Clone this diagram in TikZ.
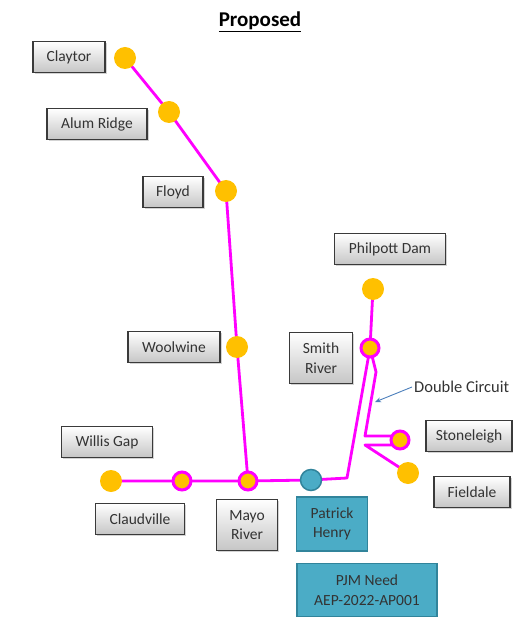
\documentclass[tikz,border=0pt]{standalone}
\usepackage{fontspec}
\setmainfont{Carlito}
\usepackage{xcolor}
\usepackage{tikz}
\usetikzlibrary{shadows,backgrounds,arrows.meta}

\definecolor{dotorange}{HTML}{FFC000}
\definecolor{linemag}{HTML}{FF00FF}
\definecolor{tealfill}{HTML}{4BACC6}
\definecolor{tealedge}{HTML}{31849B}
\definecolor{boxedge}{HTML}{3A3A3A}
\definecolor{boxtext}{HTML}{333333}
\definecolor{arrowblue}{HTML}{4A7EBB}

\begin{document}
\begin{tikzpicture}[x=1pt, y=-1pt,
    station/.style={rectangle, draw=boxedge, line width=1.5pt, top color=white, bottom color=gray!45,
        drop shadow={shadow xshift=1.5pt, shadow yshift=-1.5pt, opacity=0.35},
        minimum height=31pt, inner xsep=3pt, align=center, text=boxtext, font=\fontsize{15.5}{19.5}\selectfont},
    tealbox/.style={rectangle, draw=tealedge, line width=1.5pt, fill=tealfill,
        inner xsep=3pt, align=center, text=boxtext, font=\fontsize{15.5}{19.5}\selectfont},
    dot/.style={circle, fill=dotorange, minimum size=22pt, inner sep=0pt},
    ringdot/.style={circle, fill=dotorange, draw=linemag, line width=3pt, minimum size=18pt, inner sep=0pt},
    tealdot/.style={circle, fill=tealfill, draw=tealedge, line width=1.5pt, minimum size=21pt, inner sep=0pt},
    feeder/.style={draw=linemag, line width=2.8pt, line join=round},
]

\useasboundingbox (0,0) rectangle (513,620);

% Title
\node[font=\fontsize{21}{24}\selectfont\bfseries] (title) at (260,22) {\underline{Proposed}};

% Substations (dots)
\node[dot] (claytor) at (125,58) {};
\node[dot] (alum) at (169,112) {};
\node[dot] (floyd) at (226,191) {};
\node[dot] (woolwine) at (237,347) {};
\node[dot] (willis) at (111,481) {};
\node[ringdot] (claud) at (182,481) {};
\node[ringdot] (mayo) at (248,481) {};
\node[tealdot] (patrick) at (311,480) {};
\node[dot] (philpott) at (373,289) {};
\node[ringdot] (smith) at (370,348) {};
\node[ringdot] (stone) at (400,440) {};
\node[dot] (fieldale) at (408,473) {};

% Bends of the lines
\coordinate (bend) at (347,478);
\coordinate (dc1) at (376,372);
\coordinate (dc2) at (365,436);
\coordinate (dc3) at (365,445);
\coordinate (dctip) at (375,402);

% Labels
\node[station, minimum width=72pt] (lclaytor) at (69,57) {Claytor};
\node[station, minimum width=100pt] (lalum) at (97,124) {Alum Ridge};
\node[station, minimum width=60pt] (lfloyd) at (173,192) {Floyd};
\node[station, minimum width=92pt] (lwoolwine) at (174,347) {Woolwine};
\node[station, minimum width=91pt] (lwillis) at (107,442) {Willis Gap};
\node[station, minimum width=89pt] (lclaud) at (140,519) {Claudville};
\node[station, minimum width=61pt, minimum height=51pt] (lmayo) at (247,525) {Mayo\\River};
\node[station, minimum width=111pt] (lphilpott) at (390,249) {Philpott Dam};
\node[station, minimum width=63pt, minimum height=51pt] (lsmith) at (321,358) {Smith\\River};
\node[station, minimum width=86pt] (lstone) at (469,436) {Stoneleigh};
\node[station, minimum width=76pt] (lfieldale) at (472,492) {Fieldale};
\node[tealbox, minimum width=71pt, minimum height=54pt] (lpatrick) at (332,524) {Patrick\\Henry};
\node[tealbox, minimum width=140pt, minimum height=53pt] (lpjm) at (367,590) {PJM Need\\AEP-2022-AP001};

% Double circuit note
\node[anchor=west, inner sep=2pt, font=\fontsize{16.5}{19}\selectfont, text=black!80] (dctext) at (412,387) {Double Circuit};
\draw[arrowblue, line width=0.9pt, -{Stealth[length=6pt,width=5pt]}] (dctext.west) -- (dctip);

% Lines
\begin{scope}[on background layer]
\draw[feeder] (claytor.center) -- (alum.center) -- (floyd.center) -- (woolwine.center) -- (mayo.center);
\draw[feeder] (willis.center) -- (claud.center) -- (mayo.center) -- (patrick.center) -- (bend)
    -- (smith.center) -- (philpott.center);
\draw[feeder] (smith.center) -- (dc1) -- (dc2) -- (dc2 -| stone.center);
\draw[feeder] (stone.center |- dc3) -- (dc3) -- (fieldale.center);
\end{scope}

\end{tikzpicture}
\end{document}
